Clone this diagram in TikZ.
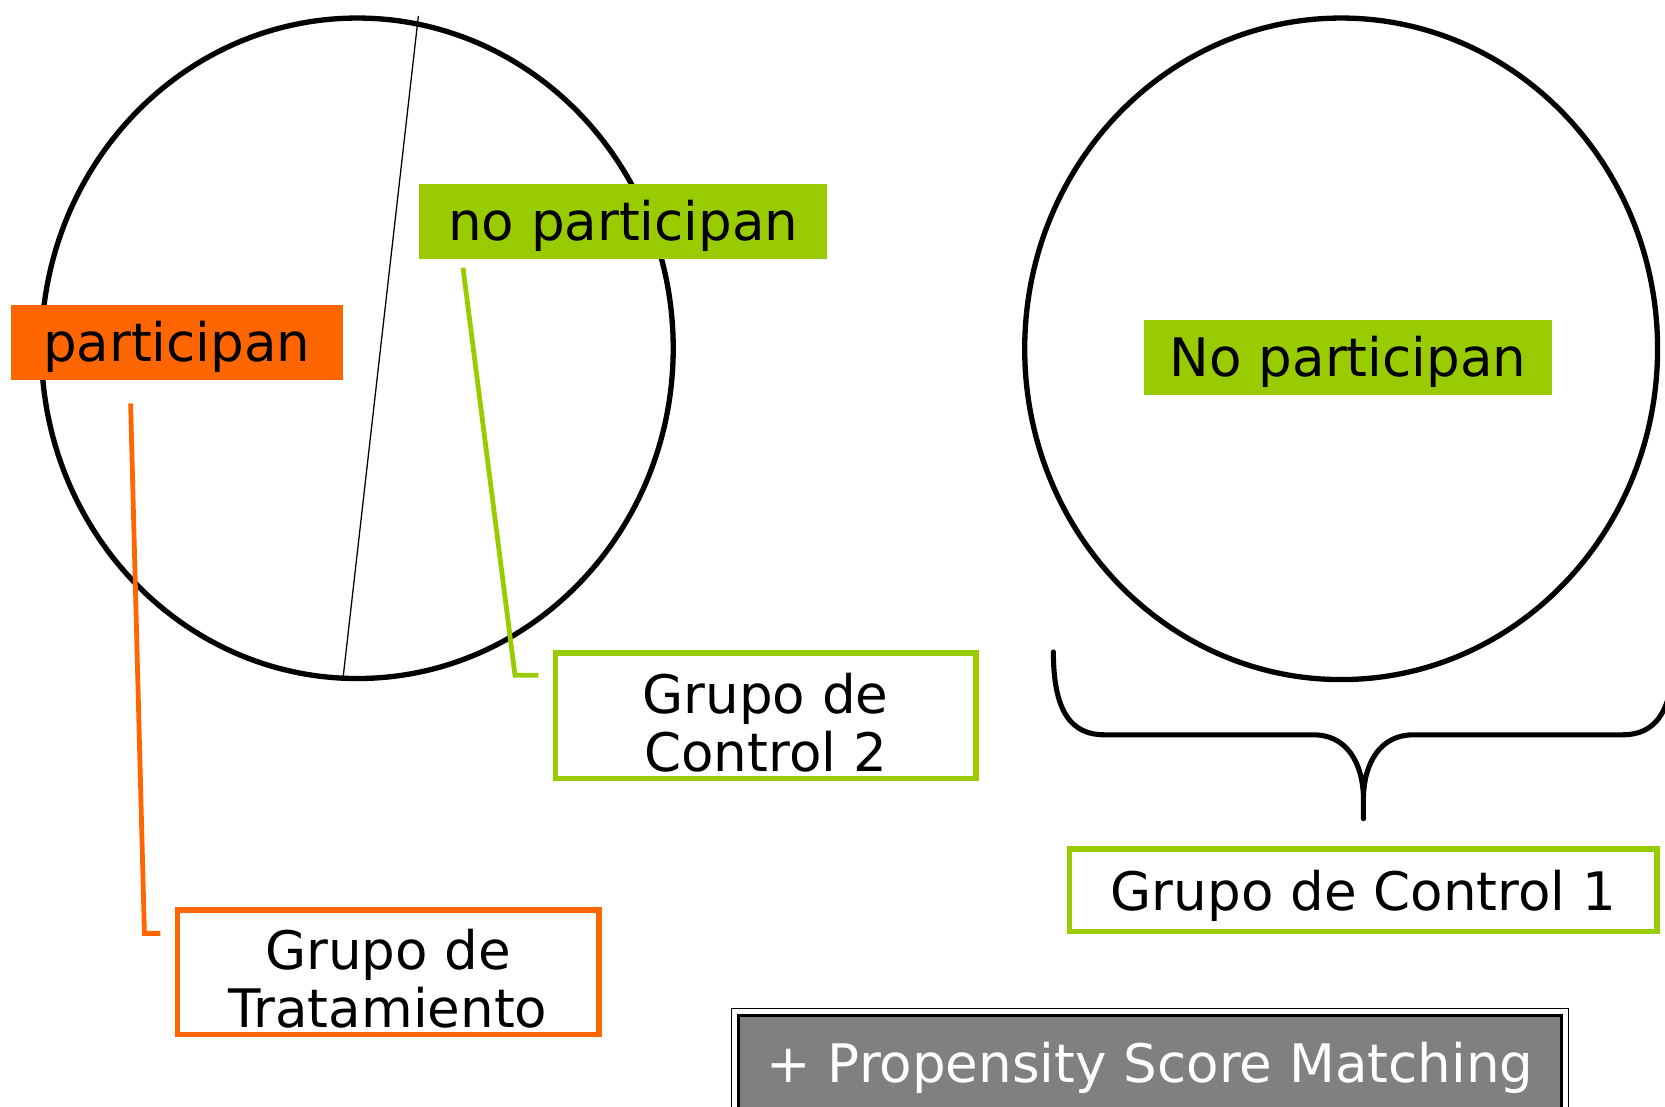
\documentclass[tikz,border=0pt]{standalone}
\usepackage{fontspec}
\setmainfont{DejaVu Sans}
\usetikzlibrary{shapes.geometric}
\definecolor{lgreen}{HTML}{99CC00}
\definecolor{lorange}{HTML}{FF6600}
\definecolor{pgray}{HTML}{808080}
\newcommand\twolines[2]{\begin{tabular}[b]{@{}c@{}}#1\\#2\end{tabular}}
\begin{document}
\begin{tikzpicture}[x=0.5pt,y=-0.5pt,
  lbl/.style={font=\fontsize{25}{27.5}\selectfont, inner sep=0pt},
  pop/.style={draw=black, line width=2.5pt, ellipse, inner sep=0pt},
  tag/.style={lbl, minimum height=35.5pt, text=black, text height=20pt, text depth=2pt},
  gbox/.style={lbl, draw=lgreen, line width=2.5pt},
  obox/.style={lbl, draw=lorange, line width=2.5pt},
  twoline/.style={text height=52.5pt, text depth=0pt},
  glead/.style={draw=lgreen, line width=2.25pt},
  olead/.style={draw=lorange, line width=2.25pt},
  divide/.style={draw=black, line width=0.6pt},
  brace/.style={draw=black, line width=2.4pt, line cap=round, line join=round},
  psmbox/.style={lbl, fill=pgray, draw=black, line width=1.5pt, text=white,
                 minimum width=387.5pt, minimum height=47pt, text height=21pt, text depth=5.5pt}
]
\useasboundingbox (0,0) rectangle (1568,1042);

% populations
\node[pop, minimum width=297.5pt, minimum height=311pt] (popL) at (336.5,328) {};
\node[pop, minimum width=298pt, minimum height=311.5pt] (popR) at (1263,328.5) {};

% dividing line
\coordinate (dTop) at (394,15);
\coordinate (dBot) at (323,639);
\draw[divide] (dTop) -- (dBot);

% leader lines
\coordinate (oA) at (123,380);
\coordinate (oB) at (136,879);
\coordinate (oC) at (151,879);
\draw[olead] (oA) -- (oB) -- (oC);
\coordinate (gA) at (436,252);
\coordinate (gB) at (485,636);
\coordinate (gC) at (507,636);
\draw[glead] (gA) -- (gB) -- (gC);

% tags
\node[tag, fill=lorange, minimum width=156.5pt] (part) at (166.5,322.5) {participan};
\node[tag, fill=lgreen, minimum width=192pt] (nopart) at (587,208.5) {no participan};
\node[tag, fill=lgreen, minimum width=192.5pt] (nopartR) at (1269.5,336.5) {No participan};

% group boxes
\node[gbox, twoline, minimum width=198pt, minimum height=59pt] (ctrl2) at (721,674) {\twolines{Grupo de}{Control 2}};
\node[obox, twoline, text height=52.5pt, minimum width=198.5pt, minimum height=58.5pt] (treat) at (365.5,915.5) {\twolines{Grupo de}{Tratamiento}};
\node[gbox, text height=21pt, text depth=2pt, minimum width=276.5pt, minimum height=39pt] (ctrl1) at (1284,838.5) {Grupo de Control 1};

% brace
\coordinate (bL) at (992,614);
\coordinate (bTip) at (1284,771);
\coordinate (bR) at (1576,614);
\draw[brace] (bL) .. controls (992,672) and (1010,692) .. (1040,692)
  -- (1237,692) .. controls (1268,692) and (1283,718) .. (1284,750) -- (bTip)
  -- (1284,750) .. controls (1285,718) and (1300,692) .. (1331,692)
  -- (1528,692) .. controls (1558,692) and (1576,672) .. (bR);

% propensity score matching
\node[psmbox] (psm) at (1083,1003.5) {+ Propensity Score Matching};
\draw[black, line width=0.5pt] ([shift={(-5,-5)}]psm.north west) rectangle ([shift={(5,5)}]psm.south east);
\end{tikzpicture}
\end{document}
